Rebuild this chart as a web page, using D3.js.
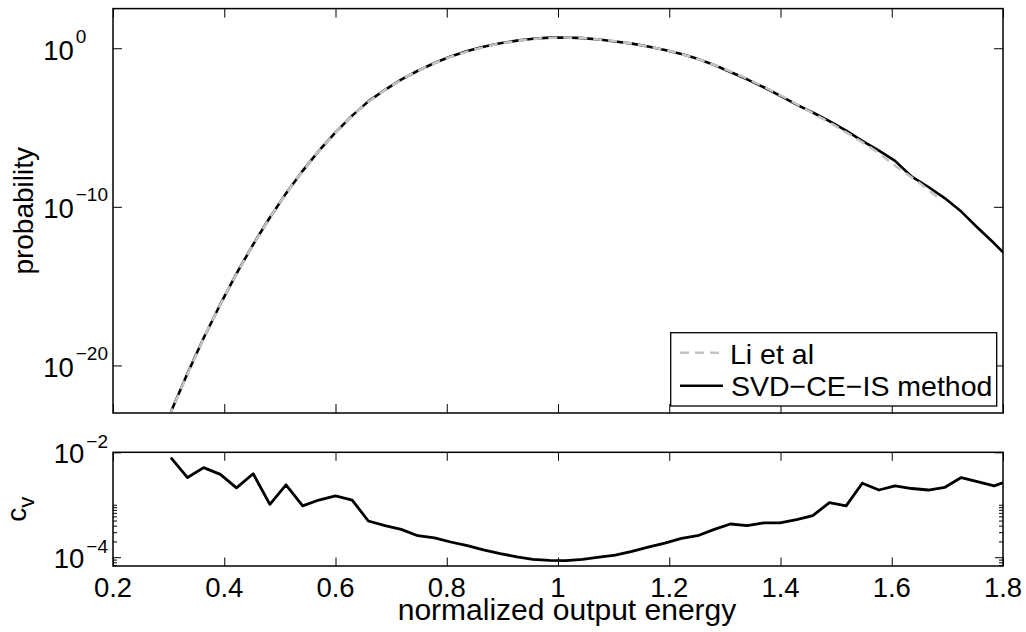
<!DOCTYPE html>
<html><head><meta charset="utf-8">
<script src="https://cdn.jsdelivr.net/npm/d3@7"></script>
<style>
body{margin:0;background:#fff}
text{font-family:"Liberation Sans",Arial,Helvetica,sans-serif;fill:#000}
</style>
</head><body>
<svg id="c" width="1026" height="632"></svg>
<script>
// ---------------- data ----------------
const energy = [0.304,0.334,0.363,0.393,0.422,0.452,0.482,0.511,0.541,0.570,0.600,0.630,0.659,0.689,0.718,0.748,0.778,0.807,0.837,0.866,0.896,0.926,0.955,0.985,1.014,1.044,1.074,1.103,1.133,1.162,1.192,1.222,1.251,1.281,1.310,1.340,1.370,1.399,1.429,1.458,1.488,1.518,1.547,1.577,1.606,1.636,1.666,1.695,1.725,1.754,1.784,1.814];
const probSVD = [1.17e-23,3.24e-21,5.37e-19,7.24e-17,6.17e-15,4.27e-13,2.14e-11,6.92e-10,1.86e-8,3.39e-7,5.01e-6,5.62e-5,4.47e-4,2.40e-3,1.05e-2,3.80e-2,0.117,0.302,0.661,1.23,2.04,3.02,3.98,4.68,4.79,4.37,3.55,2.69,1.95,1.29,0.776,0.427,0.214,8.71e-2,3.16e-2,1.10e-2,3.47e-3,1.02e-3,2.82e-4,8.91e-5,2.51e-5,6.31e-6,1.45e-6,3.55e-7,7.94e-8,7.94e-9,1.78e-9,3.55e-10,5.01e-11,5.01e-12,5.01e-13,4.47e-14];
const energyLi = [0.29,0.33,0.37,0.41,0.45,0.49,0.53,0.57,0.61,0.65,0.69,0.73,0.77,0.81,0.85,0.89,0.93,0.97,1.01,1.05,1.09,1.13,1.17,1.21,1.25,1.29,1.33,1.37,1.41,1.45,1.49,1.53,1.57,1.61,1.65,1.69];
const probLi = [7.94e-25,1.41e-21,1.74e-18,1.02e-15,3.16e-13,5.75e-11,5.75e-9,3.39e-7,1.17e-5,2.45e-4,2.51e-3,1.78e-2,8.91e-2,0.316,0.832,1.82,3.02,4.27,4.79,4.27,3.16,2.04,1.15,0.562,0.219,6.76e-2,1.74e-2,3.80e-3,7.08e-4,1.17e-4,1.91e-5,2.82e-6,3.55e-7,3.16e-8,3.16e-9,2.51e-10];
const cv = [7.9e-3,3.3e-3,5.1e-3,3.8e-3,2.1e-3,3.9e-3,1.02e-3,2.4e-3,9.5e-4,1.23e-3,1.48e-3,1.23e-3,4.9e-4,4.0e-4,3.4e-4,2.57e-4,2.34e-4,1.95e-4,1.66e-4,1.38e-4,1.17e-4,1.02e-4,9.1e-5,8.7e-5,8.6e-5,9.1e-5,1.0e-4,1.10e-4,1.29e-4,1.55e-4,1.86e-4,2.29e-4,2.57e-4,3.4e-4,4.3e-4,4.0e-4,4.5e-4,4.5e-4,5.2e-4,6.2e-4,1.10e-3,9.5e-4,2.57e-3,1.91e-3,2.29e-3,2.04e-3,1.91e-3,2.14e-3,3.3e-3,2.75e-3,2.29e-3,2.95e-3];
const xTicks = [0.2,0.4,0.6,0.8,1.0,1.2,1.4,1.6,1.8];
const xTickLabels = ["0.2","0.4","0.6","0.8","1","1.2","1.4","1.6","1.8"];
const topYTicks = [1e-20,1e-10,1];
const topYTickExp = ["\u221220","\u221210","0"];
const botYTicks = [1e-4,1e-2];
const botYTickExp = ["\u22124","\u22122"];
const botMinorTicks = [7e-5,8e-5,9e-5,2e-4,3e-4,4e-4,5e-4,6e-4,7e-4,8e-4,9e-4,1e-3];
const legendLabels = ["Li et al","SVD\u2212CE\u2212IS method"];
const xLabel = "normalized output energy";
const yLabelTop = "probability";

// ---------------- layout ----------------
const L = 113, R = 1003;
const T1 = 8.6, B1 = 413;
const T2 = 452.3, B2 = 566;
const FS = 27.5, FSUP = 19, FSLEG = 28.5, FSYL = 28, FSXL = 30;

const svg = d3.select("#c");
const x = d3.scaleLinear().domain([0.2,1.8]).range([L,R]);
const y1 = d3.scaleLog().domain([1e-23, Math.pow(10,2.5)]).range([B1,T1]);
const y2 = d3.scaleLog().domain([6.8e-5, 1e-2]).range([B2,T2]);

const defs = svg.append("defs");
defs.append("clipPath").attr("id","clip1").append("rect").attr("x",L).attr("y",T1).attr("width",R-L).attr("height",B1-T1);
defs.append("clipPath").attr("id","clip2").append("rect").attr("x",L).attr("y",T2).attr("width",R-L).attr("height",B2-T2);

// ---------- top panel ----------
const g1 = svg.append("g");
g1.append("rect").attr("x",L).attr("y",T1).attr("width",R-L).attr("height",B1-T1).attr("fill","#fff");

const line1 = d3.line().x(d=>x(d[0])).y(d=>y1(d[1]));
const cg1 = g1.append("g").attr("clip-path","url(#clip1)");
cg1.append("path").datum(energy.map((e,i)=>[e,probSVD[i]]))
  .attr("d",line1).attr("fill","none").attr("stroke","#000").attr("stroke-width",2.6).attr("stroke-linejoin","round");
cg1.append("path").datum(energyLi.map((e,i)=>[e,probLi[i]]))
  .attr("d",line1).attr("fill","none").attr("stroke","#c4c4c4").attr("stroke-width",2.6).attr("stroke-dasharray","9,6");

function ticksX(g, yPos, dir, len){
  g.append("g").attr("transform",`translate(0,${yPos})`)
   .call((dir>0?d3.axisTop(x):d3.axisBottom(x)).tickValues(xTicks).tickSizeInner(-len).tickSizeOuter(0).tickFormat(""))
   .call(a=>{a.select(".domain").remove(); a.selectAll("line").attr("stroke","#000").attr("stroke-width",1);});
}
function ticksY(g, scale, vals, len){
  g.append("g").attr("transform",`translate(${L},0)`)
   .call(d3.axisLeft(scale).tickValues(vals).tickSizeInner(-len).tickSizeOuter(0).tickFormat(""))
   .call(a=>{a.select(".domain").remove(); a.selectAll("line").attr("stroke","#000").attr("stroke-width",1);});
  g.append("g").attr("transform",`translate(${R},0)`)
   .call(d3.axisRight(scale).tickValues(vals).tickSizeInner(-len).tickSizeOuter(0).tickFormat(""))
   .call(a=>{a.select(".domain").remove(); a.selectAll("line").attr("stroke","#000").attr("stroke-width",1);});
}
ticksX(g1, B1, -1, 9);
ticksX(g1, T1, 1, 9);
ticksY(g1, y1, topYTicks, 9);

g1.append("rect").attr("x",L).attr("y",T1).attr("width",R-L).attr("height",B1-T1)
  .attr("fill","none").attr("stroke","#000").attr("stroke-width",1.5);

function powLabels(g, scale, vals, exps, rightEdge, baseDy, expDy){
  const tmp = g.append("text").attr("font-size",FSUP);
  let maxW = 0;
  exps.forEach(s=>{tmp.text(s); maxW = Math.max(maxW, tmp.node().getComputedTextLength());});
  tmp.remove();
  const baseX = rightEdge - maxW - 2;
  vals.forEach((v,i)=>{
    const yy = scale(v);
    g.append("text").attr("x",baseX).attr("y",yy+baseDy).attr("text-anchor","end").attr("font-size",FS).text("10");
    g.append("text").attr("x",baseX+2).attr("y",yy+expDy).attr("text-anchor","start").attr("font-size",FSUP).text(exps[i]);
  });
}
powLabels(g1, y1, topYTicks, topYTickExp, 108, 11.5, -5.5);

g1.append("text").attr("transform",`translate(33,${(T1+B1)/2}) rotate(-90)`)
  .attr("text-anchor","middle").attr("font-size",FSYL).text(yLabelTop);

// legend
const lg = g1.append("g");
lg.append("rect").attr("x",670.7).attr("y",332.7).attr("width",326).attr("height",73.3)
  .attr("fill","#fff").attr("stroke","#000").attr("stroke-width",1.3);
lg.append("line").attr("x1",680).attr("x2",723).attr("y1",352.7).attr("y2",352.7)
  .attr("stroke","#c4c4c4").attr("stroke-width",2.6).attr("stroke-dasharray","9,6");
lg.append("line").attr("x1",680).attr("x2",723).attr("y1",385.7).attr("y2",385.7)
  .attr("stroke","#000").attr("stroke-width",2.6);
lg.append("text").attr("x",730).attr("y",363.5).attr("font-size",FSLEG).text(legendLabels[0]);
lg.append("text").attr("x",731).attr("y",395.5).attr("font-size",FSLEG).text(legendLabels[1]);

// ---------- bottom panel ----------
const g2 = svg.append("g");
const line2 = d3.line().x(d=>x(d[0])).y(d=>y2(d[1]));
g2.append("g").attr("clip-path","url(#clip2)").append("path")
  .datum(energy.map((e,i)=>[e,cv[i]]))
  .attr("d",line2).attr("fill","none").attr("stroke","#000").attr("stroke-width",2.8).attr("stroke-linejoin","round");

ticksX(g2, B2, -1, 8.5);
ticksX(g2, T2, 1, 8.5);
ticksY(g2, y2, botYTicks, 8);
ticksY(g2, y2, botMinorTicks, 4);

g2.append("rect").attr("x",L).attr("y",T2).attr("width",R-L).attr("height",B2-T2)
  .attr("fill","none").attr("stroke","#000").attr("stroke-width",1.5);

powLabels(g2, y2, botYTicks, botYTickExp, 108, 11, -4.5);

xTicks.forEach((t,i)=>{
  g2.append("text").attr("x",x(t)).attr("y",596.5).attr("text-anchor","middle").attr("font-size",FS).text(xTickLabels[i]);
});
g2.append("text").attr("x",567).attr("y",620).attr("text-anchor","middle").attr("font-size",FSXL).text(xLabel);

const cvl = g2.append("text").attr("transform",`translate(26,${(T2+B2)/2}) rotate(-90)`)
  .attr("text-anchor","middle").attr("font-size",FSYL);
cvl.append("tspan").text("c");
cvl.append("tspan").attr("font-size",22).attr("dy",8).text("v");
</script>
</body></html>
